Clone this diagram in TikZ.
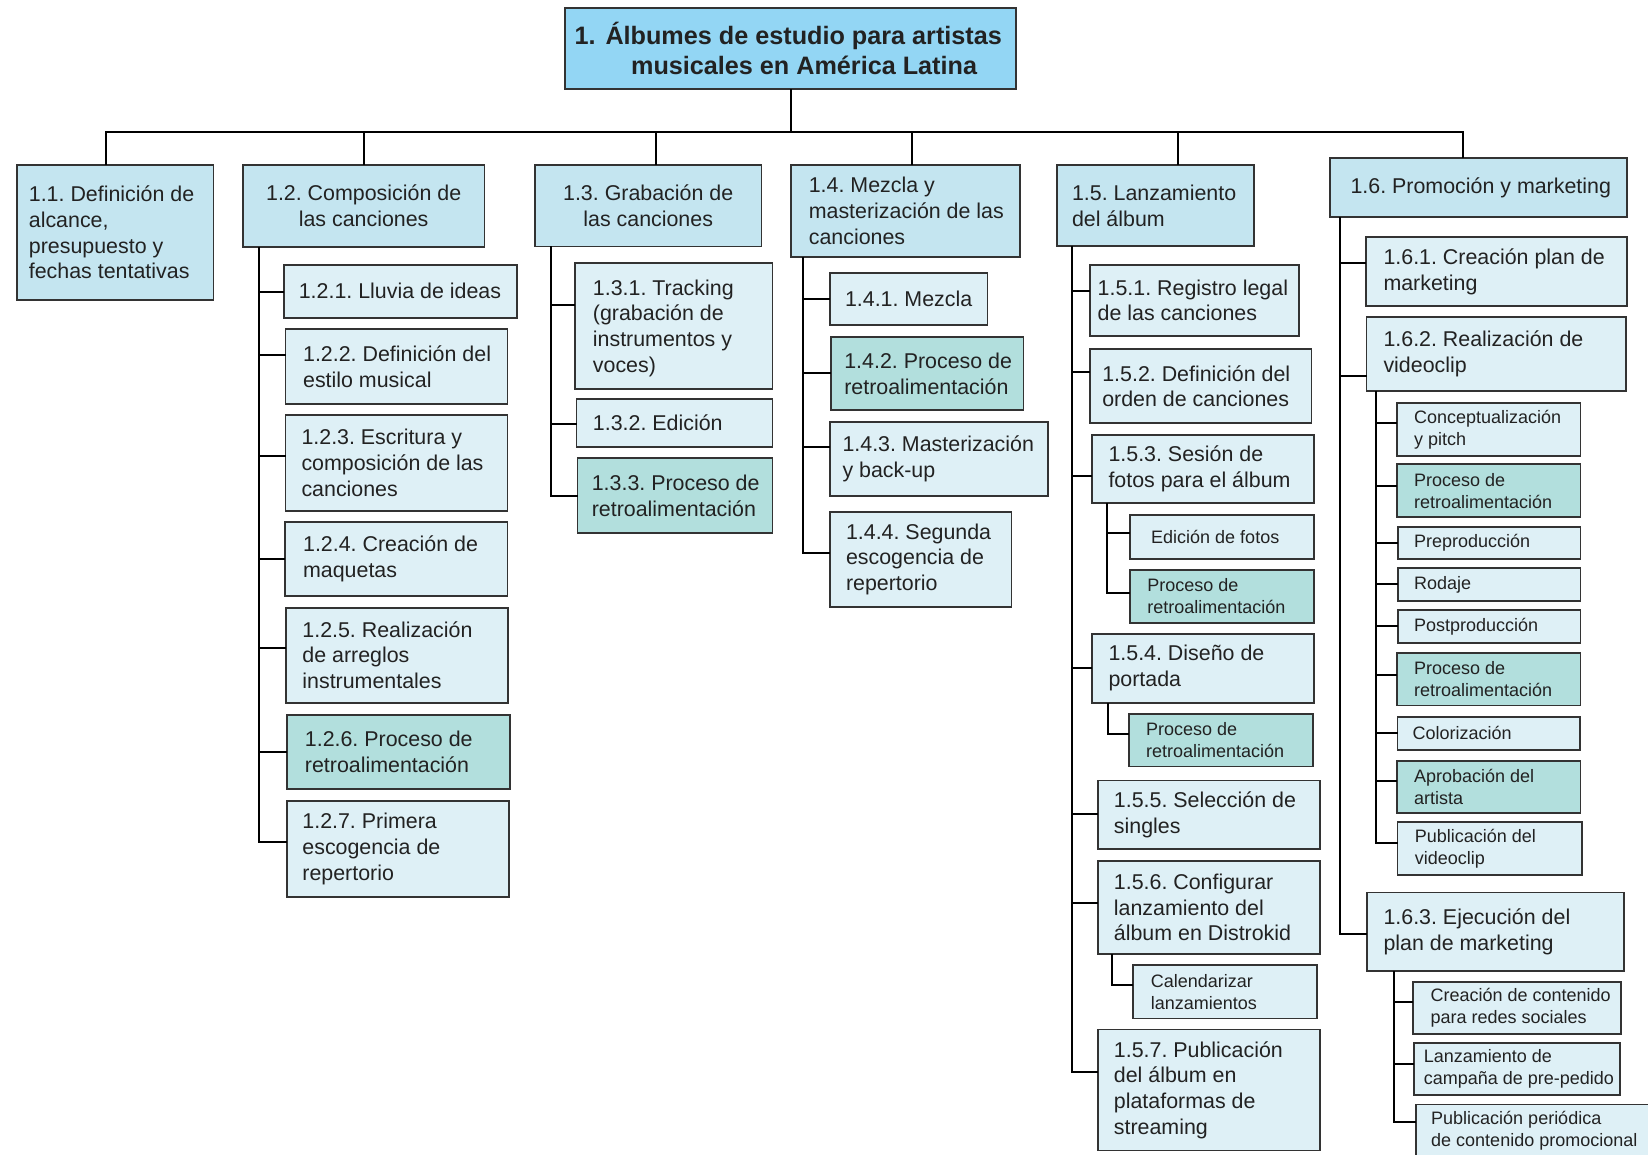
\documentclass[tikz,border=0pt]{standalone}
\usepackage{fontspec}
\setmainfont{Liberation Sans}
\usetikzlibrary{fit}

\definecolor{rootfill}{HTML}{93D6F4}
\definecolor{topfill}{HTML}{C4E5F0}
\definecolor{subfill}{HTML}{DEF0F6}
\definecolor{fbfill}{HTML}{B2DFDD}
\definecolor{edge}{HTML}{333333}
\definecolor{ink}{HTML}{222222}

\tikzset{
  box/.style={draw=edge, line width=0.9pt, inner sep=0pt},
  rootbox/.style={box, fill=rootfill},
  topbox/.style={box, fill=topfill},
  subbox/.style={box, fill=subfill},
  fbbox/.style={box, fill=fbfill},
  conn/.style={draw=black, line width=1pt, line cap=rect},
  txt/.style={inner sep=0pt, align=left, text=ink, font=\frenchspacing\fontsize{10.7}{12.85}\selectfont},
  stxt/.style={txt, font=\frenchspacing\fontsize{9}{10.8}\selectfont},
  ttxt/.style={txt, font=\frenchspacing\bfseries\fontsize{12.6}{15}\selectfont},
}

% box: name, style, x1, y1, x2, y2 (pixel units)
\newcommand\bx[6]{\node[#2, fit={(#3,#4) (#5,#6)}] (#1) {};}
% left-aligned label: box name, style, left padding (px), text
\newcommand\tl[4]{\node[#2, anchor=west] (#1t) at ([xshift={(#3)*0.5pt}]#1.west) {#4};}
% centred label
\newcommand\tc[3]{\node[#2] (#1t) at (#1.center) {#3};}
% branch from a spine to a child box, offset (px) from the child's mid height
\newcommand\br[3]{\draw[conn] (#1) |- ([yshift={-0.5pt*(#3)}]#2.west);}

\begin{document}
\frenchspacing
\begin{tikzpicture}[x=0.5pt, y=-0.5pt]
\useasboundingbox (0,0) rectangle (1648,1155);
\clip (0,0) rectangle (1648,1155);
\fill[white] (0,0) rectangle (1648,1155);

% ---------- boxes ----------
\bx{root}{rootbox}{565}{8.3}{1016}{89.3}

\bx{n11}{topbox}{16.8}{165}{213.5}{300}
\bx{n12}{topbox}{242.8}{165}{484.5}{246.7}
\bx{n13}{topbox}{535}{165}{761.4}{246.5}
\bx{n14}{topbox}{790.8}{165}{1019.7}{256.7}
\bx{n15}{topbox}{1056.8}{165}{1254}{246.3}
\bx{n16}{topbox}{1329.6}{157.8}{1627}{217}

\bx{n121}{subbox}{284}{265}{516.8}{317.7}
\bx{n122}{subbox}{285.4}{329.3}{507.5}{403.7}
\bx{n123}{subbox}{285.4}{414.7}{507.5}{510.7}
\bx{n124}{subbox}{284.6}{521.7}{507.5}{596.3}
\bx{n125}{subbox}{286}{607.7}{508.2}{702.7}
\bx{n126}{fbbox}{286.8}{715}{509.6}{789.3}
\bx{n127}{subbox}{286.8}{801}{509}{896.7}

\bx{n131}{subbox}{574.8}{262.7}{772.5}{389}
\bx{n132}{subbox}{576.5}{398.7}{772.5}{446.7}
\bx{n133}{fbbox}{577.5}{458.3}{772.5}{532.7}

\bx{n141}{subbox}{830.3}{273.3}{987.4}{325.3}
\bx{n142}{fbbox}{831}{336.7}{1023.5}{410.3}
\bx{n143}{subbox}{830.3}{421.7}{1048}{495.7}
\bx{n144}{subbox}{830.3}{512}{1011.5}{606.7}

\bx{n151}{subbox}{1089.6}{265}{1299}{336}
\bx{n152}{subbox}{1089.6}{349.3}{1311.4}{423.3}
\bx{n153}{subbox}{1092}{435}{1313.8}{503.3}
\bx{n153a}{subbox}{1130}{515.3}{1313.8}{559.3}
\bx{n153b}{fbbox}{1130}{570}{1313.8}{622.7}
\bx{n154}{subbox}{1092}{633.6}{1313.8}{702.7}
\bx{n154a}{fbbox}{1129.2}{714}{1313}{766.4}
\bx{n155}{subbox}{1098.2}{780.5}{1319.6}{849.2}
\bx{n156}{subbox}{1098.2}{860.9}{1319.6}{954}
\bx{n156a}{subbox}{1133}{965.3}{1316.9}{1018.4}
\bx{n157}{subbox}{1098.2}{1029.4}{1319.6}{1150.4}

\bx{n161}{subbox}{1365.7}{237.3}{1627}{306}
\bx{n162}{subbox}{1366.5}{316.7}{1626.3}{390.7}
\bx{n162a}{subbox}{1396.7}{403.3}{1580.5}{456}
\bx{n162b}{fbbox}{1396.7}{464.3}{1580.5}{517.3}
\bx{n162c}{subbox}{1397.9}{526.7}{1580.5}{559.3}
\bx{n162d}{subbox}{1397.9}{568.3}{1580.5}{601.3}
\bx{n162e}{subbox}{1397.9}{610}{1580.5}{642.7}
\bx{n162f}{fbbox}{1396.7}{653.1}{1580.5}{705.5}
\bx{n162g}{subbox}{1397.5}{716.8}{1579.8}{750.1}
\bx{n162h}{fbbox}{1396.7}{761}{1580.5}{813.1}
\bx{n162i}{subbox}{1397.5}{822.3}{1581.7}{875}
\bx{n163}{subbox}{1366.9}{892.4}{1624.3}{970.6}
\bx{n163a}{subbox}{1413.3}{981.7}{1620.7}{1034.3}
\bx{n163b}{subbox}{1414.3}{1042.6}{1620.3}{1095.1}
\bx{n163c}{subbox}{1416}{1104.4}{1700}{1157.6}

% ---------- connectors ----------
\coordinate (bus) at ([yshift={-0.5pt*41.7}]root.south);
\coordinate (d11) at ([xshift=-4.5pt]n11.north);
\coordinate (d12) at (n12.north);
\coordinate (d13) at ([xshift=3.8pt]n13.north);
\coordinate (d14) at ([xshift=3.5pt]n14.north);
\coordinate (d15) at ([xshift=11.35pt]n15.north);
\coordinate (d16) at ([xshift=-7.7pt]n16.north);
\draw[conn] (root.south) -- (bus);
\draw[conn] (d11 |- bus) -- (d16 |- bus);
\foreach \d in {d11,d12,d13,d14,d15,d16} \draw[conn] (\d |- bus) -- (\d);

\coordinate (s12) at ([xshift=8.4pt]n12.south west);
\br{s12}{n121}{0.35}
\br{s12}{n122}{-11.5}
\br{s12}{n123}{-6.7}
\br{s12}{n124}{0}
\br{s12}{n125}{-6.9}
\br{s12}{n126}{-0.45}
\br{s12}{n127}{-7.15}

\coordinate (s13) at ([xshift=8.2pt]n13.south west);
\br{s13}{n131}{-20.85}
\br{s13}{n132}{1.6}
\br{s13}{n133}{0.5}

\coordinate (s14) at ([xshift=6.65pt]n14.south west);
\br{s14}{n141}{-0.6}
\br{s14}{n142}{-0.8}
\br{s14}{n143}{-12}
\br{s14}{n144}{-6.65}

\coordinate (s15) at ([xshift=8.25pt]n15.south west);
\br{s15}{n151}{-9.5}
\br{s15}{n152}{-14}
\br{s15}{n153}{6.55}
\br{s15}{n154}{0}
\br{s15}{n155}{-0.65}
\br{s15}{n156}{-4}
\br{s15}{n157}{-18}
\coordinate (s153) at ([xshift=8.1pt]n153.south west);
\br{s153}{n153a}{-4.6}
\br{s153}{n153b}{-3.65}
\coordinate (s154) at ([xshift=8.5pt]n154.south west);
\br{s154}{n154a}{-6.4}
\coordinate (s156) at ([xshift=7.35pt]n156.south west);
\br{s156}{n156a}{-6.75}

\coordinate (s16) at ([xshift=5.45pt]n16.south west);
\br{s16}{n161}{-8.35}
\br{s16}{n162}{22}
\br{s16}{n163}{2}
\coordinate (s162) at ([xshift=5.25pt]n162.south west);
\br{s162}{n162a}{-6.35}
\br{s162}{n162b}{-4.8}
\br{s162}{n162c}{0.3}
\br{s162}{n162d}{-0.5}
\br{s162}{n162e}{-0.35}
\br{s162}{n162f}{-4.3}
\br{s162}{n162g}{0}
\br{s162}{n162h}{-5.85}
\br{s162}{n162i}{-5.45}
\coordinate (s163) at ([xshift=14.05pt]n163.south west);
\br{s163}{n163a}{-6.2}
\br{s163}{n163b}{-5.35}
\br{s163}{n163c}{-9.3}

% ---------- labels ----------
\tl{root}{ttxt}{10}{1.\hspace{5pt}Álbumes de estudio para artistas\\\hspace*{28.3pt}musicales en América Latina}

\tl{n11}{txt}{12.6}{1.1. Definición de\\alcance,\\presupuesto y\\fechas tentativas}
\tc{n12}{txt, align=center}{1.2. Composición de\\las canciones}
\tc{n13}{txt, align=center}{1.3. Grabación de\\las canciones}
\tl{n14}{txt}{18.5}{1.4. Mezcla y\\masterización de las\\canciones}
\tl{n15}{txt}{15.7}{1.5. Lanzamiento\\del álbum}
\tl{n16}{txt}{21.4}{1.6. Promoción y marketing}

\tl{n121}{txt}{15.3}{1.2.1. Lluvia de ideas}
\tl{n122}{txt}{18.2}{1.2.2. Definición del\\estilo musical}
\tl{n123}{txt}{16.6}{1.2.3. Escritura y\\composición de las\\canciones}
\tl{n124}{txt}{19}{1.2.4. Creación de\\maquetas}
\tl{n125}{txt}{16.9}{1.2.5. Realización\\de arreglos\\instrumentales}
\tl{n126}{txt}{18.6}{1.2.6. Proceso de\\retroalimentación}
\tl{n127}{txt}{16.1}{1.2.7. Primera\\escogencia de\\repertorio}

\tl{n131}{txt, yshift=-1.2pt}{18.6}{1.3.1. Tracking\\(grabación de\\instrumentos y\\voces)}
\tl{n132}{txt}{16.9}{1.3.2. Edición}
\tl{n133}{txt}{14.8}{1.3.3. Proceso de\\retroalimentación}

\tl{n141}{txt}{15.2}{1.4.1. Mezcla}
\tl{n142}{txt}{13.8}{1.4.2. Proceso de\\retroalimentación}
\tl{n143}{txt}{12.7}{1.4.3. Masterización\\y back-up}
\tl{n144}{txt}{16.2}{1.4.4. Segunda\\escogencia de\\repertorio}

\tl{n151}{txt}{8.6}{1.5.1. Registro legal\\de las canciones}
\tl{n152}{txt}{13.2}{1.5.2. Definición del\\orden de canciones}
\tl{n153}{txt}{17}{1.5.3. Sesión de\\fotos para el álbum}
\tl{n153a}{stxt}{21.7}{Edición de fotos}
\tl{n153b}{stxt}{17.8}{Proceso de\\retroalimentación}
\tl{n154}{txt}{17}{1.5.4. Diseño de\\portada}
\tl{n154a}{stxt}{17.4}{Proceso de\\retroalimentación}
\tl{n155}{txt}{16.2}{1.5.5. Selección de\\singles}
\tl{n156}{txt}{16.2}{1.5.6. Configurar\\lanzamiento del\\álbum en Distrokid}
\tl{n156a}{stxt}{18.3}{Calendarizar\\lanzamientos}
\tl{n157}{txt}{16.2}{1.5.7. Publicación\\del álbum en\\plataformas de\\streaming}

\tl{n161}{txt}{18.3}{1.6.1. Creación plan de\\marketing}
\tl{n162}{txt}{17.5}{1.6.2. Realización de\\videoclip}
\tl{n162a}{stxt}{17.9}{Conceptualización\\y pitch}
\tl{n162b}{stxt}{17.9}{Proceso de\\retroalimentación}
\tl{n162c}{stxt}{16.7}{Preproducción}
\tl{n162d}{stxt}{16.7}{Rodaje}
\tl{n162e}{stxt}{16.7}{Postproducción}
\tl{n162f}{stxt}{17.9}{Proceso de\\retroalimentación}
\tl{n162g}{stxt}{15.5}{Colorización}
\tl{n162h}{stxt}{17.9}{Aprobación del\\artista}
\tl{n162i}{stxt}{17.8}{Publicación del\\videoclip}
\tl{n163}{txt}{17.1}{1.6.3. Ejecución del\\plan de marketing}
\tl{n163a}{stxt}{17.7}{Creación de contenido\\para redes sociales}
\tl{n163b}{stxt}{10}{Lanzamiento de\\campaña de pre-pedido}
\tl{n163c}{stxt}{15.7}{Publicación periódica\\de contenido promocional}
\end{tikzpicture}
\end{document}
